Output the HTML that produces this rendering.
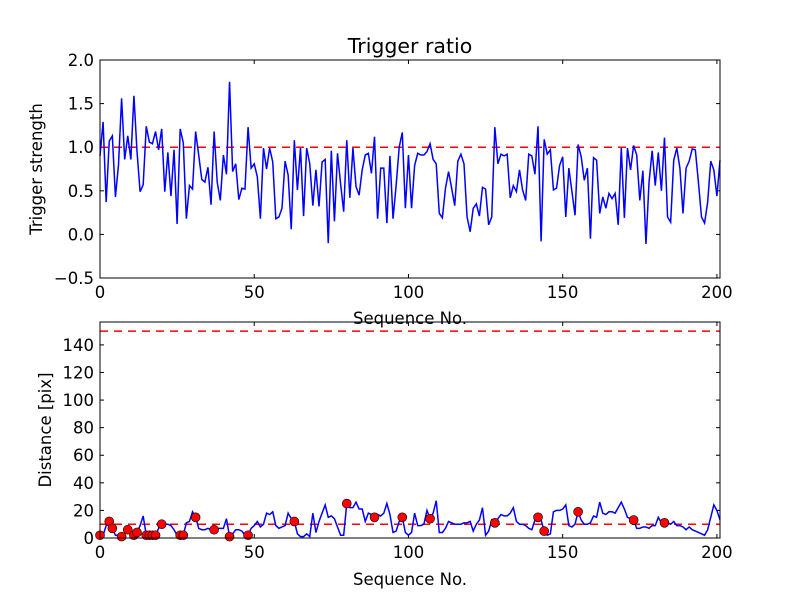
<!DOCTYPE html>
<html><head><meta charset="utf-8"><style>
body{margin:0;background:#fff}
svg{display:block;font-family:"DejaVu Sans","Liberation Sans",sans-serif}
</style></head><body>
<svg id="chart" width="800" height="600" viewBox="0 0 800 600" xmlns="http://www.w3.org/2000/svg">
<rect width="800" height="600" fill="#fff"/>
<g id="top"></g><g id="bot"></g>
</svg>
<script>
const strength = [0.9,1.29,0.37,1.07,1.13,0.43,0.8,1.56,0.86,1.13,0.86,1.59,0.95,0.49,0.57,1.24,1.06,1.04,1.18,0.97,1.21,0.49,0.94,0.44,0.97,0.12,1.21,1.05,0.18,0.56,0.52,1.18,0.91,0.63,0.6,0.77,0.34,1.18,0.6,0.39,0.91,0.69,1.75,0.72,0.81,0.4,0.53,0.52,1.23,0.76,0.81,0.66,0.18,0.99,0.75,0.99,0.83,0.18,0.2,0.3,0.84,0.68,0.06,1.08,0.51,0.99,0.21,0.99,0.81,0.33,0.74,0.32,0.83,0.86,-0.1,0.96,0.15,0.93,0.58,0.26,1.08,0.42,0.99,0.55,0.45,0.74,0.91,0.93,0.7,1.12,0.18,0.76,0.76,0.13,0.9,0.18,0.56,1.0,1.17,0.3,0.91,0.3,0.79,0.93,0.91,0.91,0.95,1.04,0.86,0.81,0.24,0.19,0.53,0.72,0.53,0.33,0.84,0.92,0.81,0.2,0.03,0.3,0.35,0.21,0.54,0.52,0.11,0.2,1.23,0.81,0.92,0.9,0.92,0.42,0.56,0.49,0.74,0.51,0.39,0.92,0.9,0.69,1.24,-0.08,1.09,0.92,0.97,0.51,0.53,0.79,0.89,0.2,0.76,0.49,0.22,1.03,0.89,0.62,0.76,-0.05,0.88,0.85,0.24,0.43,0.3,0.47,0.41,0.47,0.11,0.99,0.19,0.99,0.74,1.02,0.91,0.39,0.73,-0.11,0.6,0.96,0.56,0.94,0.5,1.11,0.2,0.14,0.85,0.99,0.76,0.24,0.76,0.84,0.98,0.97,0.6,0.2,0.13,0.37,0.84,0.74,0.44,0.85];
const distance = [2,2,9,12,7,2,2,1,4,6,3,2,4,9,16,2,2,2,2,7,10,10,10,9,6,2,2,2,11,12,19,15,7,6,6,7,6,6,7,7,7,14,1,3,6,6,5,2,2,7,9,12,8,10,18,17,19,9,7,8,9,18,14,12,3,1,1,3,1,18,4,12,18,24,15,16,14,8,2,2,25,22,22,26,21,21,12,18,17,15,17,16,18,25,17,4,5,12,15,4,2,4,18,9,9,10,20,14,18,27,4,4,7,12,11,10,10,10,11,11,12,5,10,13,22,2,5,13,11,14,17,16,16,18,22,12,10,10,9,7,6,13,15,13,5,2,3,19,20,20,21,24,9,8,10,19,13,10,10,11,16,15,26,18,17,19,19,18,22,26,21,15,14,13,7,7,8,8,7,9,9,15,11,11,11,10,12,9,9,8,6,8,6,5,4,3,2,6,15,24,20,13];
const markerIdx = [0,3,4,7,9,11,12,15,16,17,18,20,26,27,31,37,42,48,63,80,89,98,107,128,142,144,155,173,183];
const markerVal = [2,12,7,1,6,2,4,2,2,2,2,10,2,2,15,6,1,2,12,25,15,15,14,11,15,5,19,13,11];
const xTicks = [0,50,100,150,200];
const topYTicks = [-0.5,0,0.5,1,1.5,2];
const botYTicks = [0,20,40,60,80,100,120,140];
const topThreshold = 1.0;
const botThresholds = [10,150];

const NS="http://www.w3.org/2000/svg";
function mk(p,tag,a){const e=document.createElementNS(NS,tag);for(const k in a)e.setAttribute(k,a[k]);p.appendChild(e);return e;}
const L=100,R=720,X0=0,X1=201;
const FS=16.5;
const xs=v=>L+(v-X0)/(X1-X0)*(R-L);
function axes(g,T,B,y0,y1,yticks,fmt,ylab,ylabX,xlabY){
  const ys=v=>B-(v-y0)/(y1-y0)*(B-T);
  for(const t of xTicks){
    const tk=mk(g,'line',{x1:xs(t),x2:xs(t),y1:B,y2:B-4,stroke:'#000'});
    
    mk(g,'line',{x1:xs(t),x2:xs(t),y1:T,y2:T+4,stroke:'#000'});
    const tx=mk(g,'text',{x:xs(t),y:B+20,'text-anchor':'middle','font-size':FS});
    tx.textContent=t;
    
  }
  for(const t of yticks){
    mk(g,'line',{x1:L,x2:L+4,y1:ys(t),y2:ys(t),stroke:'#000'});
    mk(g,'line',{x1:R,x2:R-4,y1:ys(t),y2:ys(t),stroke:'#000'});
    const tx=mk(g,'text',{x:L-6,y:ys(t)+6,'text-anchor':'end','font-size':FS});
    tx.textContent=fmt(t);
    
  }
  const xl=mk(g,'text',{x:(L+R)/2,y:xlabY,'text-anchor':'middle','font-size':FS});
  xl.textContent='Sequence No.';
  
  const yl=mk(g,'text',{x:ylabX,y:(T+B)/2,'text-anchor':'middle','font-size':FS,transform:`rotate(-90 ${ylabX} ${(T+B)/2})`});
  yl.textContent=ylab;
  
  return ys;
}
// top
const gt=document.getElementById('top');
const tT=60,tB=278;
const ysT=axes(gt,tT,tB,-0.5,2.0,topYTicks,v=>v.toFixed(1).replace('-','\u2212'),'Trigger strength',42,324);
const th=mk(gt,'line',{x1:L,x2:R,y1:ysT(topThreshold),y2:ysT(topThreshold),stroke:'#f00','stroke-dasharray':'8,6','stroke-width':1.5});

const pl=mk(gt,'polyline',{points:strength.map((v,i)=>xs(i)+','+ysT(v)).join(' '),fill:'none',stroke:'#00f','stroke-width':1.5});

mk(gt,'rect',{x:L,y:tT,width:R-L,height:tB-tT,fill:'none',stroke:'#000','stroke-width':1});
const title=mk(gt,'text',{x:(L+R)/2,y:53,'text-anchor':'middle','font-size':20.5});
title.textContent='Trigger ratio';

// bottom
const gb=document.getElementById('bot');
const bT=322,bB=538;
const ysB=axes(gb,bT,bB,0,156.6,botYTicks,v=>String(v),'Distance [pix]',51,585);
for(const t of botThresholds){
  const l=mk(gb,'line',{x1:L,x2:R,y1:ysB(t),y2:ysB(t),stroke:'#f00','stroke-dasharray':'8,6','stroke-width':1.5});
  
}
const dl=mk(gb,'polyline',{points:distance.map((v,i)=>xs(i)+','+ysB(v)).join(' '),fill:'none',stroke:'#00f','stroke-width':1.5});

markerIdx.forEach((ix,k)=>{
  const c=mk(gb,'circle',{cx:xs(ix),cy:ysB(markerVal[k]),r:4.5,fill:'#f00',stroke:'#000','stroke-width':0.6});
  
});
mk(gb,'rect',{x:L,y:bT,width:R-L,height:bB-bT,fill:'none',stroke:'#000','stroke-width':1});
</script>
</body></html>
